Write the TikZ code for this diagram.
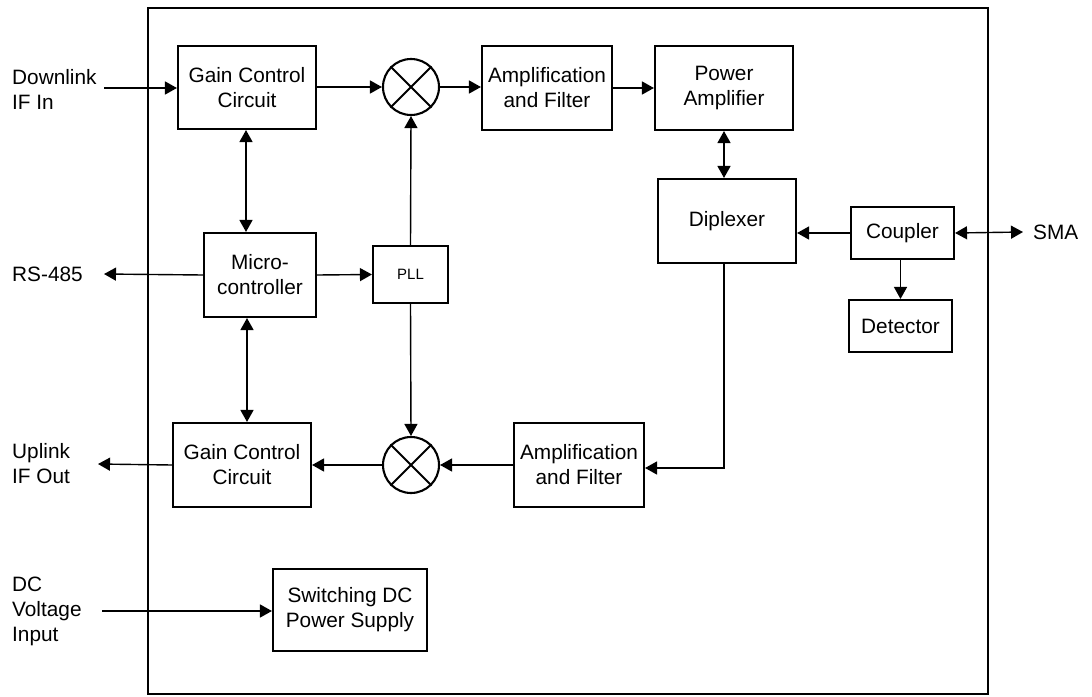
\documentclass[tikz,border=0pt]{standalone}
\usepackage{fontspec}
\setmainfont{Liberation Sans}
\usetikzlibrary{arrows.meta}
\begin{document}
\begin{tikzpicture}[x=1pt,y=-1pt,
  blk/.style={draw,line width=2.1pt,inner sep=0pt,align=center,
    font=\fontsize{20.8}{25}\selectfont},
  mix/.style={draw,line width=2.1pt,circle,minimum size=56pt,inner sep=0pt},
  lbl/.style={align=left,anchor=west,inner sep=0pt,
    font=\fontsize{20.8}{25}\selectfont},
  conn/.style={line width=1.4pt},
  tip/.style={-{Triangle[length=12pt,width=13pt]}},
  both/.style={{Triangle[length=12pt,width=13pt]}-{Triangle[length=12pt,width=13pt]}}
]
\useasboundingbox (0,0) rectangle (1092,696);
% enclosure
\draw[line width=2.8pt] (148,8) rectangle (988,694);

% downlink chain
\node[blk,minimum width=138pt,minimum height=83pt] (gcd) at (247,87.5) {Gain Control\\Circuit};
\node[mix] (mxd) at (411,87) {};
\draw[line width=2.1pt] (mxd.north west) -- (mxd.south east) (mxd.north east) -- (mxd.south west);
\node[blk,minimum width=130pt,minimum height=84pt] (afd) at (547,88) {Amplification\\and Filter};
\node[blk,minimum width=138pt,minimum height=84pt] (pa) at (724,88) {Power\\Amplifier};

% control
\node[blk,minimum width=112pt,minimum height=84pt] (mcu) at (260,275) {Micro-\\controller};
\node[blk,minimum width=75pt,minimum height=57pt,font=\fontsize{15}{18}\selectfont] (pll) at (410.5,274.5) {PLL};

% antenna side
\node[blk,minimum width=138pt,minimum height=84pt] (dip) at (727,221) {Diplexer};
\node[blk,minimum width=103pt,minimum height=52pt] (cpl) at (902.5,233) {Coupler};
\node[blk,minimum width=103pt,minimum height=52pt] (det) at (900.5,326) {Detector};

% uplink chain
\node[blk,minimum width=138pt,minimum height=84pt] (gcu) at (242,465) {Gain Control\\Circuit};
\node[mix] (mxu) at (411,465) {};
\draw[line width=2.1pt] (mxu.north west) -- (mxu.south east) (mxu.north east) -- (mxu.south west);
\node[blk,minimum width=130pt,minimum height=84pt] (afu) at (579,465) {Amplification\\and Filter};

% power
\node[blk,minimum width=154pt,minimum height=82pt] (psu) at (350,610) {Switching DC\\Power Supply};

% external labels
\node[lbl] (tdl) at (12,89) {Downlink\\IF In};
\node[lbl] (trs) at (12,274) {RS-485};
\node[lbl] (tul) at (12,464) {Uplink\\IF Out};
\node[lbl] (tdc) at (12,611) {DC\\Voltage\\Input};
\node[lbl] (tsma) at (1033,232) {SMA};

\coordinate (dlin) at (104,88);
\coordinate (rsout) at (104,274);
\coordinate (ulout) at (98,464);
\coordinate (dcin) at (102,611);
\coordinate (smaend) at (1023,232);
\coordinate (bend) at (724,468);

% connectors
\draw[conn,tip] (dlin) -- (gcd.west |- dlin);
\draw[conn,tip] (gcd.east |- mxd) -- (mxd.west);
\draw[conn,tip] (mxd.east) -- (afd.west |- mxd);
\draw[conn,tip] (afd.east) -- (pa.west);
\draw[conn,both] (pa.south) -- (dip.north -| pa.south);
\draw[conn,tip] (cpl.west) -- (dip.east |- cpl.west);
\draw[conn,both] (cpl.east) -- (smaend);
\draw[conn,tip] (cpl.south -| det.north) -- (det.north);
\draw[conn,tip] (dip.south -| bend) -- (bend) -- (afu.east |- bend);
\draw[conn,tip] (afu.west) -- (mxu.east);
\draw[conn,tip] (mxu.west) -- (gcu.east);
\draw[conn,tip] (gcu.west) -- (ulout);
\draw[conn,tip] (pll.north) -- (mxd.south);
\draw[conn,tip] (pll.south) -- (mxu.north);
\draw[conn,tip] (mcu.east) -- (pll.west);
\draw[conn,tip] (mcu.west) -- (rsout);
\draw[conn,both] (gcd.south -| 246,0) -- (mcu.north -| 246,0);
\draw[conn,both] (mcu.south -| 247,0) -- (gcu.north -| 247,0);
\draw[conn,tip] (dcin) -- (psu.west |- dcin);
\end{tikzpicture}
\end{document}
